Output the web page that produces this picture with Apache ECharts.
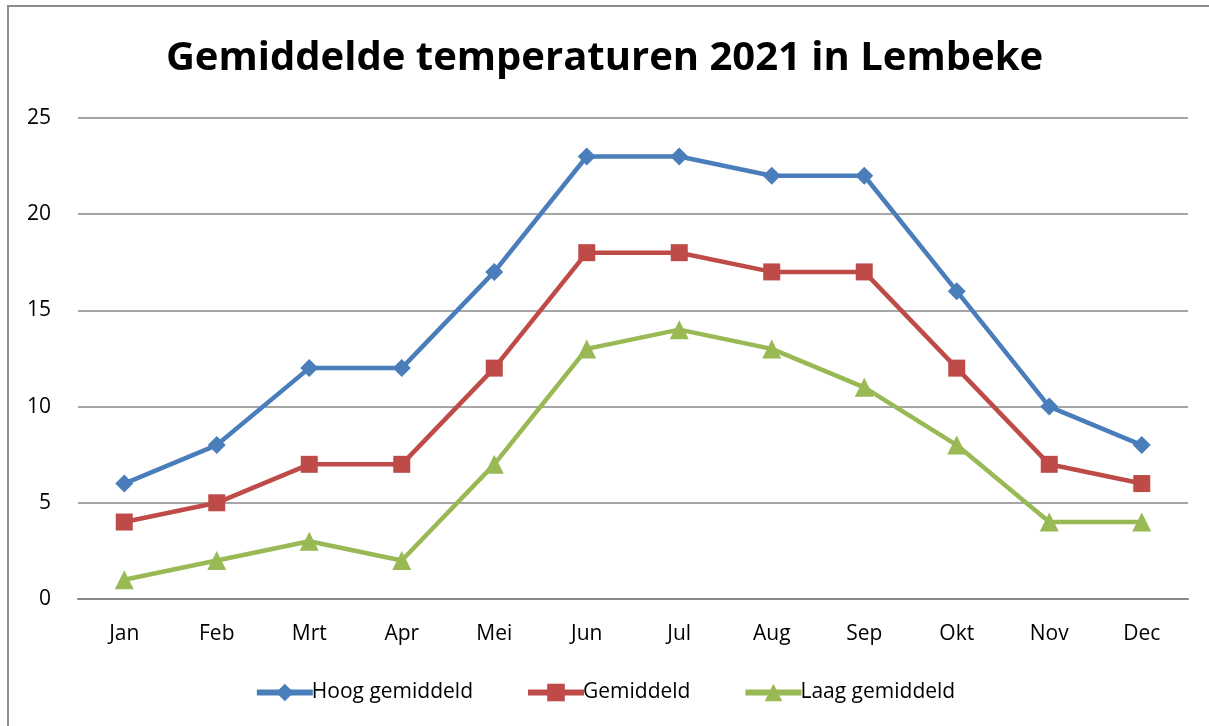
<!DOCTYPE html>
<html><head><meta charset="utf-8">
<script src="https://cdn.jsdelivr.net/npm/echarts@6/dist/echarts.min.js"></script>
<style>html,body{margin:0;padding:0;background:#fff}#c{width:1209px;height:726px}</style>
</head><body><div id="c"></div>
<script>
const months = ['Jan','Feb','Mrt','Apr','Mei','Jun','Jul','Aug','Sep','Okt','Nov','Dec'];
const hoog = [6,8,12,12,17,23,23,22,22,16,10,8];
const gem = [4,5,7,7,12,18,18,17,17,12,7,6];
const laag = [1,2,3,2,7,13,14,13,11,8,4,4];
const seriesNames = ['Hoog gemiddeld','Gemiddeld','Laag gemiddeld'];
const font = 'Open Sans';
const chart = echarts.init(document.getElementById('c'));
function mk(name, data, color, symbol, size){
  return {name, type:'line', data, symbol, symbolSize:size,
    lineStyle:{color, width:4.5}, itemStyle:{color}, animation:false};
}
chart.setOption({
  animation:false,
  graphic:[{type:'rect', shape:{x:8,y:6,width:1300,height:900}, style:{fill:'none', stroke:'#8c8c8c', lineWidth:2}, silent:true}],
  title:{text:'Gemiddelde temperaturen 2021 in Lembeke', left:'center', top:34,
    textStyle:{fontFamily:font, fontWeight:'bold', fontSize:40, color:'#000'}},
  grid:{left:78, right:21, top:118, bottom:127},
  xAxis:{type:'category', data:months, boundaryGap:true,
    axisLine:{lineStyle:{color:'#888', width:2}}, axisTick:{show:false},
    axisLabel:{fontFamily:font, fontSize:21, color:'#000', margin:25}},
  yAxis:{type:'value', min:0, max:25, interval:5,
    axisLine:{show:false}, axisTick:{show:false},
    splitLine:{lineStyle:{color:'#888', width:1.5}},
    axisLabel:{fontFamily:font, fontSize:21, color:'#000', margin:27}},
  legend:{bottom:18, left:'center', itemWidth:56, itemHeight:22, itemGap:52,
    lineStyle:{width:6},
    textStyle:{fontFamily:font, fontSize:21, color:'#000', padding:[0,0,0,-6]},
    data:seriesNames},
  series:[
    mk(seriesNames[0], hoog, '#4A7EBB', 'diamond', 18),
    mk(seriesNames[1], gem, '#BE4B48', 'rect', 17),
    mk(seriesNames[2], laag, '#98B954', 'triangle', 19)
  ]
});
</script></body></html>
